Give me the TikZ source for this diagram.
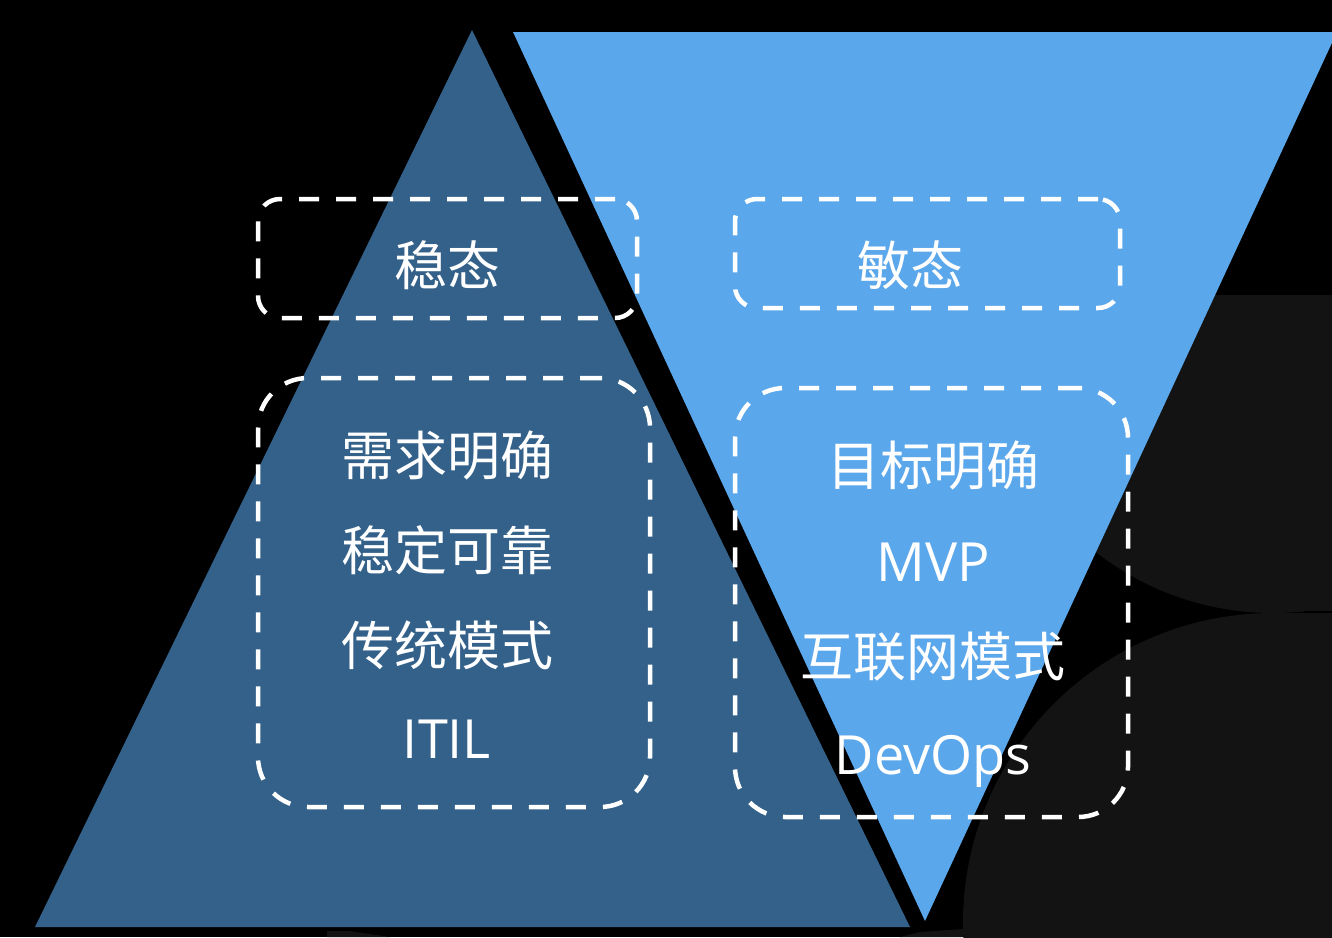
\documentclass[tikz,border=0pt]{standalone}
\usepackage{fontspec}
\newfontfamily\cjk{Noto Sans CJK SC}
\newfontfamily\latn{Open Sans}
\definecolor{darkblue}{RGB}{51,97,138}
\definecolor{lightblue}{RGB}{91,167,235}
\definecolor{shadegray}{RGB}{19,19,19}
\tikzset{
  dashbox/.style={draw=white, line width=4.5pt, dash pattern=on 20pt off 17pt, rounded corners=#1, inner sep=0pt},
  dashbox/.default=22pt,
  lbl/.style={text=white, inner sep=0pt, font=\cjk\fontsize{53}{60}\selectfont},
  latlbl/.style={text=white, inner sep=0pt, anchor=base, font=\latn\fontsize{54}{60}\selectfont}
}
\begin{document}
\begin{tikzpicture}[x=1pt, y=-1pt, line join=round]
\fill[black] (0,0) rectangle (1332,937);
\clip (0,0) rectangle (1332,937);
\coordinate (A) at (472,30);
\coordinate (B) at (35,927);
\coordinate (C) at (910,927);
\coordinate (P) at (513,32);
\coordinate (Q) at (1337,32);
\coordinate (R) at (925,921);
\begin{scope}
  \clip (900,295) rectangle (1340,700);
  \fill[shadegray] (1273,325) circle (288);
  \fill[shadegray] (1273,295) rectangle (1340,611);
\end{scope}
\fill[shadegray] (1273,923) circle (310);
\fill[shadegray] (1273,613) rectangle (1340,937);
\fill[shadegray] (327,937) -- (327,931) -- (350,931) -- (390,937) -- cycle;
\fill[shadegray] (900,937) -- (920,932) -- (963,929) -- (963,937) -- cycle;
\fill[darkblue] (A) -- (B) -- (C) -- cycle;
\fill[lightblue] (P) -- (Q) -- (R) -- cycle;
\node[dashbox, minimum width=379pt, minimum height=119pt] (stablebox) at (447.5,258.5) {};
\node[dashbox, minimum width=385pt, minimum height=109pt] (agilebox) at (927.5,253.5) {};
\node[dashbox=50pt, minimum width=392pt, minimum height=429pt] (stablelist) at (454,592.5) {};
\node[dashbox=50pt, minimum width=393pt, minimum height=429pt] (agilelist) at (931.5,602.5) {};
\node[lbl] (stable) at (447,265) {稳态};
\node[lbl] (agile) at (910,265) {敏态};
\node[lbl] (req) at (447,455) {需求明确};
\node[lbl] (reliable) at (447,550) {稳定可靠};
\node[lbl] (trad) at (447,645) {传统模式};
\node[latlbl] (itil) at (447,758) {ITIL};
\node[lbl] (goal) at (933,465) {目标明确};
\node[latlbl] (mvp) at (933,581) {MVP};
\node[lbl] (inet) at (933,657) {互联网模式};
\node[latlbl] (devops) at (933,774) {DevOps};
\end{tikzpicture}
\end{document}
